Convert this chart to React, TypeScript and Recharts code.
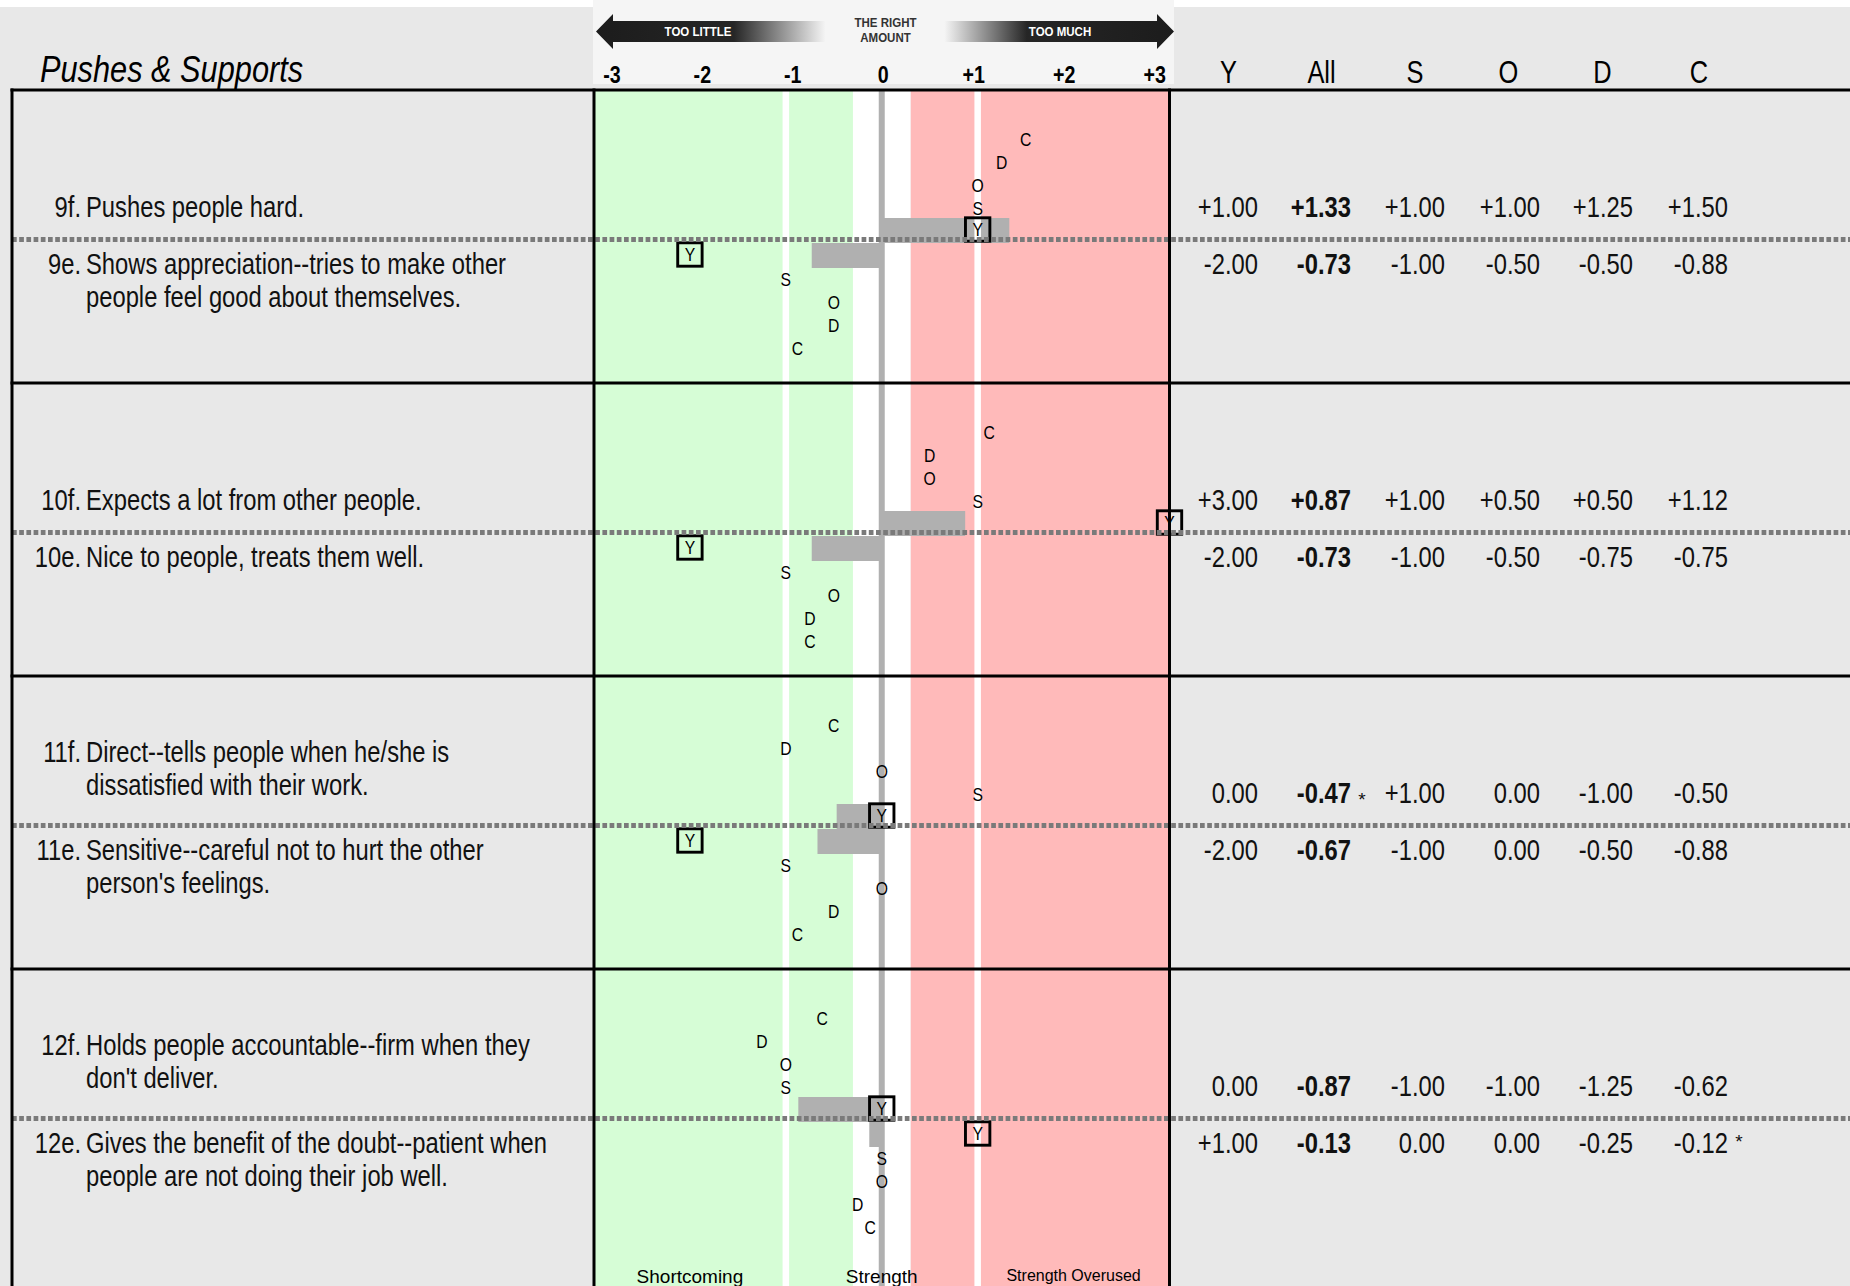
import React from "react";
import {
  ComposedChart,
  XAxis,
  YAxis,
  Bar,
  Scatter,
  ReferenceArea,
  ReferenceLine,
} from "recharts";

// ---------------- data ----------------
const title = "Pushes & Supports";
const itemCodes = ["9f.", "9e.", "10f.", "10e.", "11f.", "11e.", "12f.", "12e."];
const itemLines = [
  ["Pushes people hard."],
  ["Shows appreciation--tries to make other", "people feel good about themselves."],
  ["Expects a lot from other people."],
  ["Nice to people, treats them well."],
  ["Direct--tells people when he/she is", "dissatisfied with their work."],
  ["Sensitive--careful not to hurt the other", "person's feelings."],
  ["Holds people accountable--firm when they", "don't deliver."],
  ["Gives the benefit of the doubt--patient when", "people are not doing their job well."],
];
const scoresY = [1.0, -2.0, 3.0, -2.0, 0.0, -2.0, 0.0, 1.0];
const scoresAll = [1.33, -0.73, 0.87, -0.73, -0.47, -0.67, -0.87, -0.13];
const scoresS = [1.0, -1.0, 1.0, -1.0, 1.0, -1.0, -1.0, 0.0];
const scoresO = [1.0, -0.5, 0.5, -0.5, 0.0, 0.0, -1.0, 0.0];
const scoresD = [1.25, -0.5, 0.5, -0.75, -1.0, -0.5, -1.25, -0.25];
const scoresC = [1.5, -0.88, 1.12, -0.75, -0.5, -0.88, -0.62, -0.12];
const flaggedColumn = ["", "", "", "", "All", "", "", "C"];
const columnHeaders = ["Y", "All", "S", "O", "D", "C"];
const letterSeries = ["S", "O", "D", "C"];
const scaleTicks = [-3, -2, -1, 0, 1, 2, 3];
const tickLabels = ["-3", "-2", "-1", "0", "+1", "+2", "+3"];
const zoneLabels = ["Shortcoming", "Strength", "Strength Overused"];
const zoneCenters = [-2, 0, 2];

// ---------------- layout ----------------
const W = 1850;
const H = 1286;
const PLOT_L = 594;
const PLOT_R = 1169.5;
const PLOT_T = 91;
const PLOT_B = H;
const GROUP_PX = 293;
const Y_MAX = (PLOT_B - PLOT_T) / GROUP_PX;
const ANCHOR_PX = 151.5;
const u = (p: number) => p / GROUP_PX;
const SANS = "'Liberation Sans', Arial, sans-serif";
const SX = 0.82; // horizontal squeeze to mimic a narrow face
const COL_RIGHT = [1258, 1351, 1445, 1540, 1633, 1728];
const COL_CENTER = [1228.5, 1321.5, 1415, 1508.5, 1602.5, 1699];

const groupCount = scoresAll.length / 2;
const groupAnchors = Array.from({ length: groupCount }, (_, g) => g + u(ANCHOR_PX));
const barData = groupAnchors.map((y, g) => ({ y, f: scoresAll[2 * g], e: scoresAll[2 * g + 1] }));

const rowCenter = (i: number) => {
  const g = Math.floor(i / 2);
  return g + u(ANCHOR_PX + (i % 2 === 0 ? -13 : 12));
};
const letterRow = (i: number, k: number) => {
  const g = Math.floor(i / 2);
  return g + u(ANCHOR_PX + (i % 2 === 0 ? -(34.5 + 23 * k) : 37 + 23 * k));
};
const yMarkerData = scoresY.map((v, i) => ({ x: v, y: rowCenter(i) }));
const letterValues = [scoresS, scoresO, scoresD, scoresC];
const letterData = letterValues.map((vals, k) => vals.map((v, i) => ({ x: v, y: letterRow(i, k) })));

const fmt = (v: number) => (v > 0 ? "+" : v < 0 ? "-" : "") + Math.abs(v).toFixed(2);
const tableCols = [scoresY, scoresAll, scoresS, scoresO, scoresD, scoresC];

const xPx = (v: number) => PLOT_L + ((v + 3) / 6) * (PLOT_R - PLOT_L);
const groupTopPx = (g: number) => PLOT_T + g * GROUP_PX;

// narrow text helper
const NT = ({
  x,
  y,
  size,
  anchor = "start",
  weight = "normal",
  italic = false,
  fill = "#111",
  sx = SX,
  children,
}: any) => (
  <text
    transform={`translate(${x},${y}) scale(${sx},1)`}
    textAnchor={anchor}
    fontSize={size}
    fontWeight={weight}
    fontStyle={italic ? "italic" : "normal"}
    fontFamily={SANS}
    fill={fill}
  >
    {children}
  </text>
);

// ---------------- shapes ----------------
const YBox = (p: any) => {
  const { cx, cy } = p;
  return (
    <g>
      <rect x={cx - 12.2} y={cy - 11.7} width={24.4} height={23.4} fill="none" stroke="#000" strokeWidth={2.9} />
      <NT x={cx} y={cy + 6.6} size={18.5} anchor="middle" fill="#000" sx={0.85}>
        Y
      </NT>
    </g>
  );
};

const makeLetter = (ch: string) => (p: any) => (
  <NT x={p.cx} y={p.cy + 6.6} size={18.5} anchor="middle" fill="#000" sx={0.85}>
    {ch}
  </NT>
);

const ScaleTick = (p: any) => {
  const c = (PLOT_L + PLOT_R) / 2;
  const lx = c + 1.5 + (p.x - c) * 0.943;
  const i = scaleTicks.indexOf(p.payload.value);
  return (
    <NT x={lx} y={83} size={24} anchor="middle" weight="bold" fill="#000">
      {tickLabels[i]}
    </NT>
  );
};

const LabelTick = (p: any) => {
  const y = p.y;
  const g = Math.round(p.payload.value - u(ANCHOR_PX));
  const out: any[] = [];
  [0, 1].forEach((r) => {
    const i = 2 * g + r;
    const lines = itemLines[i];
    let bases: number[];
    if (r === 0) bases = lines.length === 1 ? [y - 25.5] : [y - 67, y - 33.5];
    else bases = [y + 31, y + 64.5];
    lines.forEach((ln, j) => {
      if (j === 0)
        out.push(
          <NT key={`n${i}`} x={81} y={bases[0]} anchor="end" size={29}>
            {itemCodes[i]}
          </NT>
        );
      out.push(
        <NT key={`t${i}-${j}`} x={86} y={bases[j]} size={29}>
          {ln}
        </NT>
      );
    });
  });
  return <g>{out}</g>;
};

const ValueTick = (p: any) => {
  const y = p.y;
  const g = Math.round(p.payload.value - u(ANCHOR_PX));
  const out: any[] = [];
  [0, 1].forEach((r) => {
    const i = 2 * g + r;
    const base = r === 0 ? y - 25.5 : y + 31;
    tableCols.forEach((col, c) => {
      out.push(
        <NT key={`v${i}-${c}`} x={COL_RIGHT[c]} y={base} anchor="end" size={29} weight={c === 1 ? "bold" : "normal"}>
          {fmt(col[i])}
        </NT>
      );
      if (flaggedColumn[i] === columnHeaders[c]) {
        out.push(
          <NT key={`a${i}-${c}`} x={COL_RIGHT[c] + 11} y={c === 1 ? base + 3 : base - 5} anchor="middle" size={19} sx={1}>
            *
          </NT>
        );
      }
    });
  });
  return <g>{out}</g>;
};

// ---------------- component ----------------
export default function App() {
  return (
    <div
      style={{
        position: "absolute",
        left: 0,
        top: 0,
        width: W,
        height: H,
        overflow: "hidden",
        background: "#e8e8e8",
      }}
    >
      {/* underlay: header */}
      <svg width={W} height={H} style={{ position: "absolute", left: 0, top: 0 }}>
        <defs>
          <linearGradient id="gradL" gradientUnits="userSpaceOnUse" x1={596} y1={0} x2={826} y2={0}>
            <stop offset="0" stopColor="#1c1c1c" />
            <stop offset="0.6" stopColor="#262626" />
            <stop offset="1" stopColor="#f6f6f6" />
          </linearGradient>
          <linearGradient id="gradR" gradientUnits="userSpaceOnUse" x1={944} y1={0} x2={1174} y2={0}>
            <stop offset="0" stopColor="#f6f6f6" />
            <stop offset="0.36" stopColor="#262626" />
            <stop offset="1" stopColor="#1c1c1c" />
          </linearGradient>
        </defs>
        <rect x={0} y={0} width={W} height={7} fill="#ffffff" />
        <rect x={593} y={0} width={581} height={84} fill="#f5f5f5" />
        <polygon points="596,31.5 613,14 613,21 826,21 826,42 613,42 613,49" fill="url(#gradL)" />
        <polygon points="1174,31.5 1157,14 1157,21 944,21 944,42 1157,42 1157,49" fill="url(#gradR)" />
        <NT x={698} y={35.5} size={12.5} anchor="middle" weight="bold" fill="#fff" sx={0.92}>
          TOO LITTLE
        </NT>
        <NT x={1060} y={35.5} size={12.5} anchor="middle" weight="bold" fill="#fff" sx={0.92}>
          TOO MUCH
        </NT>
        <NT x={885.5} y={27} size={12.5} anchor="middle" weight="bold" fill="#333" sx={0.92}>
          THE RIGHT
        </NT>
        <NT x={885.5} y={42} size={12.5} anchor="middle" weight="bold" fill="#333" sx={0.92}>
          AMOUNT
        </NT>
        <NT x={40} y={82} size={37.5} italic fill="#000" sx={0.82}>
          {title}
        </NT>
        {columnHeaders.map((h, c) => (
          <NT key={h} x={COL_CENTER[c]} y={83} size={31} anchor="middle" fill="#000">
            {h}
          </NT>
        ))}
      </svg>

      <div style={{ position: "absolute", left: 0, top: 0 }}>
        <ComposedChart
          width={W}
          height={H}
          data={barData}
          layout="vertical"
          margin={{ top: 0, right: 0, bottom: 0, left: 0 }}
          barGap={0}
        >
          <XAxis
            type="number"
            dataKey="x"
            orientation="top"
            domain={[-3, 3]}
            ticks={scaleTicks}
            height={PLOT_T}
            axisLine={false}
            tickLine={false}
            interval={0}
            tick={(p: any) => <ScaleTick {...p} />}
          />
          <YAxis
            yAxisId={0}
            type="number"
            dataKey="y"
            domain={[0, Y_MAX]}
            ticks={groupAnchors}
            width={PLOT_L}
            axisLine={false}
            tickLine={false}
            interval={0}
            tick={(p: any) => <LabelTick {...p} />}
          />
          <YAxis
            yAxisId="r"
            orientation="right"
            type="number"
            dataKey="y"
            domain={[0, Y_MAX]}
            ticks={groupAnchors}
            width={W - PLOT_R}
            axisLine={false}
            tickLine={false}
            interval={0}
            tick={(p: any) => <ValueTick {...p} />}
          />
          <YAxis yAxisId="bar" type="number" dataKey="y" domain={[0, Y_MAX]} hide />

          <ReferenceArea x1={-3} x2={-0.3} fill="#d6fdd6" fillOpacity={1} stroke="none" />
          <ReferenceArea x1={0.3} x2={3} fill="#ffbaba" fillOpacity={1} stroke="none" />
          <ReferenceArea x1={-0.3} x2={0.3} fill="#ffffff" fillOpacity={1} stroke="none" />
          <ReferenceLine x={-1} stroke="#ffffff" strokeWidth={6.5} />
          <ReferenceLine x={1} stroke="#ffffff" strokeWidth={6.5} />
          <ReferenceLine x={0} stroke="#b0b0b0" strokeWidth={6} />

          <Bar yAxisId="bar" dataKey="f" barSize={25} fill="#b0b0b0" isAnimationActive={false} />
          <Bar yAxisId="bar" dataKey="e" barSize={25} fill="#b0b0b0" isAnimationActive={false} />

          {letterSeries.map((ch, k) => (
            <Scatter
              key={ch}
              name={ch}
              data={letterData[k]}
              shape={makeLetter(ch)}
              isAnimationActive={false}
            />
          ))}
          <Scatter name="Y" data={yMarkerData} shape={YBox} isAnimationActive={false} />
        </ComposedChart>
      </div>

      {/* overlay: rules, dividers, zone labels */}
      <svg width={W} height={H} style={{ position: "absolute", left: 0, top: 0, pointerEvents: "none" }}>
        {groupAnchors.map((a, g) => {
          const y = PLOT_T + a * GROUP_PX - 3;
          return (
            <line key={`d${g}`} x1={12} x2={W} y1={y} y2={y} stroke="#7a7a7a" strokeWidth={4.8} strokeDasharray="4.7 2.5" />
          );
        })}
        {Array.from({ length: groupCount }, (_, g) => (
          <line key={`b${g}`} x1={10.5} x2={W} y1={groupTopPx(g) - 1} y2={groupTopPx(g) - 1} stroke="#000" strokeWidth={3} />
        ))}
        {[12, PLOT_L, PLOT_R].map((x) => (
          <line key={`v${x}`} x1={x} x2={x} y1={PLOT_T - 2.5} y2={H} stroke="#000" strokeWidth={3} />
        ))}
        {zoneLabels.map((z, i) => (
          <NT
            key={z}
            x={xPx(zoneCenters[i])}
            y={i === 2 ? 1281 : 1283}
            size={i === 2 ? 16 : 19}
            anchor="middle"
            fill="#000"
            sx={1}
          >
            {z}
          </NT>
        ))}
      </svg>
    </div>
  );
}
